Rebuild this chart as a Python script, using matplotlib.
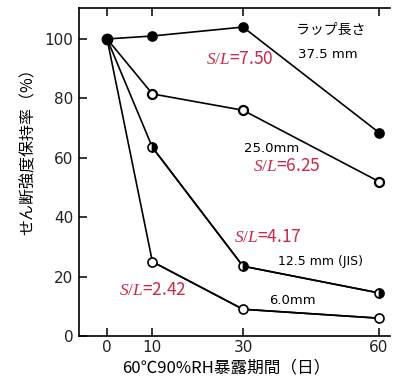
import matplotlib.pyplot as plt
import numpy as np

plt.rcParams['font.family'] = ['Noto Sans CJK JP', 'DejaVu Sans']
plt.rcParams['mathtext.fontset'] = 'custom'
plt.rcParams['mathtext.it'] = 'Liberation Serif:italic'
plt.rcParams['mathtext.rm'] = 'Liberation Serif'

# exposure days and retention (%) for each lap length
days = [0, 10, 30, 60]
lap_375 = [100, 101, 104, 68.5]
lap_250 = [100, 81.5, 76, 52]
lap_125 = [100, 63.5, 23.5, 14.5]
lap_060 = [100, 25, 9, 6]

xticks = [0, 10, 30, 60]
yticks = [0, 20, 40, 60, 80, 100]
red = '#cc2a4a'

fig = plt.figure(figsize=(3.94, 3.84), dpi=100, facecolor='white')
ax = fig.add_axes([0.2005, 0.125, 0.79, 0.854])

lk = dict(color='k', lw=1.2, markersize=6.5, markeredgecolor='k', markeredgewidth=1.2)
ax.plot(days, lap_375, marker='o', markerfacecolor='k', **lk)
ax.plot(days, lap_250, color='k', lw=1.2)
ax.plot(days[1:], lap_250[1:], marker='o', markerfacecolor='white', color='k', lw=0,
        markersize=6.5, markeredgewidth=1.6)
ax.plot(days, lap_125, color='k', lw=1.2)
ax.plot(days[1:], lap_125[1:], marker='o', fillstyle='right', markerfacecoloralt='white', **lk)
ax.plot(days, lap_060, color='k', lw=1.2)
ax.plot(days[1:], lap_060[1:], marker='o', markerfacecolor='white', **lk)
ax.plot([0], [100], marker='o', color='k', markersize=7.5)

ax.set_xlim(-6.2, 62.5)
ax.set_ylim(0, 110.4)
ax.set_xticks(xticks)
ax.set_yticks(yticks)
ax.tick_params(axis='both', direction='in', length=6, width=1.1, labelsize=11, pad=4)
ax.tick_params(axis='x', top=True, pad=3)
ax.spines['right'].set_visible(False)
for s in ['left', 'bottom', 'top']:
    ax.spines[s].set_linewidth(1.2)
for lbl in ax.get_xticklabels() + ax.get_yticklabels():
    lbl.set_fontfamily('DejaVu Sans')
    lbl.set_color('#222222')

ax.set_xlabel('60℃90%RH暴露期間（日）', fontsize=12)
ax.set_ylabel('せん断強度保持率（%）', fontsize=11.5)
ax.xaxis.set_label_coords(0.473, -0.07)
ax.yaxis.set_label_coords(-0.135, 0.573)

ax.text(49.4, 103, 'ラップ長さ', fontsize=10, ha='center', va='center')
ax.text(48.8, 94.6, '37.5 mm', fontsize=9.5, ha='center', va='center', family='DejaVu Sans')
ax.text(29.4, 93.3, r'$\mathit{S/L}$=7.50', fontsize=12.5, color=red, ha='center', va='center')
ax.text(36.4, 63.2, '25.0mm', fontsize=9.5, ha='center', va='center', family='DejaVu Sans')
ax.text(39.7, 57.2, r'$\mathit{S/L}$=6.25', fontsize=12.5, color=red, ha='center', va='center')
ax.text(35.5, 33.3, r'$\mathit{S/L}$=4.17', fontsize=12.5, color=red, ha='center', va='center')
ax.text(47, 25, '12.5 mm (JIS)', fontsize=9, ha='center', va='center', family='DejaVu Sans')
ax.text(40.8, 12.1, '6.0mm', fontsize=9.5, ha='center', va='center', family='DejaVu Sans')
ax.text(10, 15.5, r'$\mathit{S/L}$=2.42', fontsize=12.5, color=red, ha='center', va='center')

fig.savefig('out.png', dpi=100)
